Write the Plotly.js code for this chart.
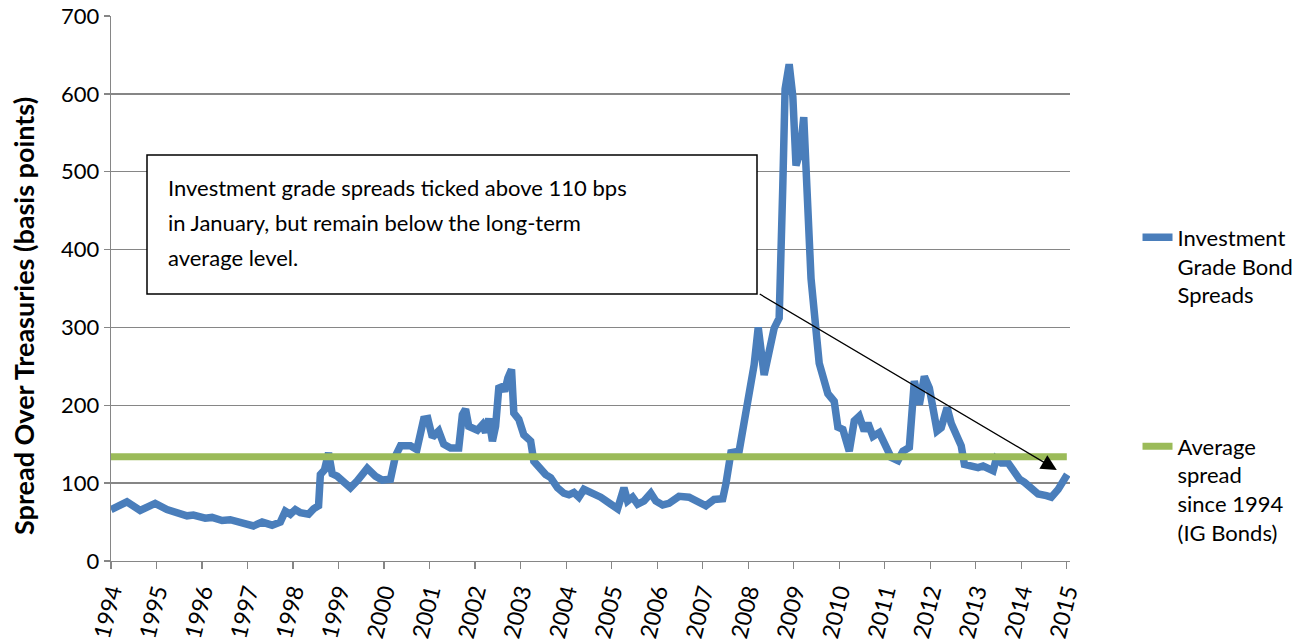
<!DOCTYPE html>
<html>
<head>
<meta charset="utf-8">
<script src="https://cdn.plot.ly/plotly-3.0.1.min.js"></script>
<style>html,body{margin:0;padding:0;background:#fff;}#chart{width:1304px;height:643px;}</style>
</head>
<body>
<div id="chart"></div>
<script>
// Dates as decimal years
var dates = [
1994.00,1994.35,1994.64,1994.97,1995.23,1995.45,1995.67,1995.81,1995.96,1996.07,
1996.22,1996.44,1996.62,1996.77,1996.91,1997.13,1997.32,1997.54,1997.72,1997.83,
1997.94,1998.05,1998.16,1998.34,1998.45,1998.56,1998.60,1998.69,1998.78,1998.86,
1998.97,1999.15,1999.26,1999.41,1999.63,1999.81,1999.96,2000.14,2000.25,2000.36,
2000.58,2000.72,2000.87,2000.96,2001.06,2001.20,2001.31,2001.46,2001.64,2001.72,
2001.79,2001.86,2002.05,2002.16,2002.23,2002.30,2002.38,2002.45,2002.52,2002.60,
2002.65,2002.72,2002.80,2002.85,2002.96,2003.07,2003.22,2003.29,2003.44,2003.55,
2003.66,2003.81,2003.95,2004.06,2004.17,2004.28,2004.39,2004.58,2004.76,2004.98,
2005.13,2005.27,2005.35,2005.46,2005.57,2005.71,2005.86,2005.97,2006.12,2006.26,
2006.48,2006.70,2006.89,2007.07,2007.25,2007.44,2007.51,2007.62,2007.80,2007.95,
2008.13,2008.22,2008.35,2008.57,2008.68,2008.76,2008.81,2008.90,2008.98,2009.05,
2009.14,2009.22,2009.31,2009.38,2009.56,2009.75,2009.82,2009.89,2009.97,2010.08,
2010.22,2010.33,2010.44,2010.55,2010.63,2010.74,2010.88,2011.03,2011.14,2011.29,
2011.40,2011.54,2011.58,2011.65,2011.76,2011.87,2011.98,2012.06,2012.15,2012.24,
2012.37,2012.46,2012.57,2012.68,2012.75,2012.90,2013.05,2013.16,2013.27,2013.38,
2013.45,2013.56,2013.71,2013.82,2013.96,2014.07,2014.22,2014.37,2014.55,2014.66,
2014.81,2014.95,2015.01
];
// Investment grade bond spreads (bps)
var igSpreads = [
66,76,65,74,66,61,58,59,57,55,
56,52,53,50,48,45,50,46,50,64,
60,66,62,60,67,71,111,117,139,112,
109,99,94,103,119,109,104,105,135,148,
148,143,182,183,159,167,150,145,145,188,
195,173,168,175,165,183,154,173,222,224,
218,235,246,190,182,162,154,128,116,111,
107,94,87,85,88,82,92,87,82,73,
67,94,77,82,73,77,87,77,72,74,
83,82,77,71,79,80,99,139,141,195,
252,300,239,299,312,482,606,638,597,508,
525,570,452,363,254,215,210,205,172,169,
141,180,186,167,177,160,165,148,133,129,
141,146,171,231,201,237,222,192,167,171,
197,177,160,148,124,122,120,122,118,116,
131,126,126,116,105,101,92,86,84,82,
92,103,111
];
var avgStart = 1994, avgEnd = 2015;
var avgSpread = 134;
var yearTicks = [];
for (var yr = 1994; yr <= 2015; yr++) yearTicks.push(yr);
var yTicks = [0,100,200,300,400,500,600,700];

var seriesNames = ["Investment<br>Grade Bond<br>Spreads", "Average<br>spread<br>since 1994<br>(IG Bonds)"];
var yTitle = "Spread Over Treasuries (basis points)";
var noteLines = ["Investment grade spreads ticked above 110 bps",
                 "in January, but remain below the long-term",
                 "average level."];

var FONT = "Lato, 'Open Sans', sans-serif";
var traces = [
  {x: dates, y: igSpreads, type: "scatter", mode: "lines", name: seriesNames[0],
   line: {color: "#4A7EBB", width: 7.5}, legendgroup: "a", hoverinfo: "skip"},
  {x: [avgStart, avgEnd], y: [avgSpread, avgSpread], type: "scatter", mode: "lines", name: seriesNames[1],
   line: {color: "#9BBB59", width: 7}, legendgroup: "b", hoverinfo: "skip"}
];

// pixel helpers (plot area: x 111..1070, y 16..561)
function px(x) { return (x - 111) / 959; }
function py(y) { return 1 - (y - 16) / 545; }

var annotations = noteLines.map(function (t, i) {
  var yc = [187, 222, 257][i];
  return {xref: "paper", yref: "paper", x: px(166), y: py(yc), xanchor: "left", yanchor: "middle",
          text: t, showarrow: false, align: "left", font: {family: FONT, size: 22, color: "#000"}};
});
annotations.push({x: 2014.78, y: 117, ax: 2008.22, ay: 344, xref: "x", yref: "y", axref: "x", ayref: "y",
  text: "", showarrow: true, arrowhead: 2, arrowsize: 2.4, arrowwidth: 1.3, arrowcolor: "#000"});
annotations.push({xref: "paper", yref: "paper", x: px(23), y: py(316), xanchor: "center", yanchor: "middle",
  text: "<b>" + yTitle + "</b>", textangle: -90, showarrow: false, font: {family: FONT, size: 27, color: "#000"}});

var layout = {
  width: 1304, height: 643,
  margin: {l: 111, r: 234, t: 16, b: 82, autoexpand: false},
  paper_bgcolor: "#fff", plot_bgcolor: "#fff",
  font: {family: FONT, size: 20, color: "#000"},
  xaxis: {
    range: [1994, 2015.07], tickvals: yearTicks, ticktext: yearTicks.map(String),
    tickangle: -76, ticks: "outside", ticklen: 7, tickwidth: 1.3, tickcolor: "#868686",
    showline: true, linecolor: "#868686", linewidth: 1.3, showgrid: false, zeroline: false,
    tickfont: {family: FONT, size: 23}
  },
  yaxis: {
    range: [0, 700], tickvals: yTicks, ticks: "outside", ticklen: 6, tickwidth: 1.3, tickcolor: "#868686",
    showline: true, linecolor: "#868686", linewidth: 1.3, showgrid: true, gridcolor: "#868686", gridwidth: 1.3,
    zeroline: false, tickfont: {family: FONT, size: 22}
  },
  showlegend: true,
  legend: {x: 1.0704, xanchor: "left", y: 0.632, yanchor: "top", valign: "top",
    font: {family: FONT, size: 22}, tracegroupgap: 120, bgcolor: "rgba(0,0,0,0)"},
  shapes: [
    {type: "rect", xref: "paper", yref: "paper", x0: px(147), x1: px(757), y0: py(155), y1: py(294),
     line: {color: "#000", width: 1.5}, fillcolor: "#fff", layer: "above"}
  ],
  annotations: annotations
};
Plotly.newPlot("chart", traces, layout, {staticPlot: true});
</script>
</body>
</html>
